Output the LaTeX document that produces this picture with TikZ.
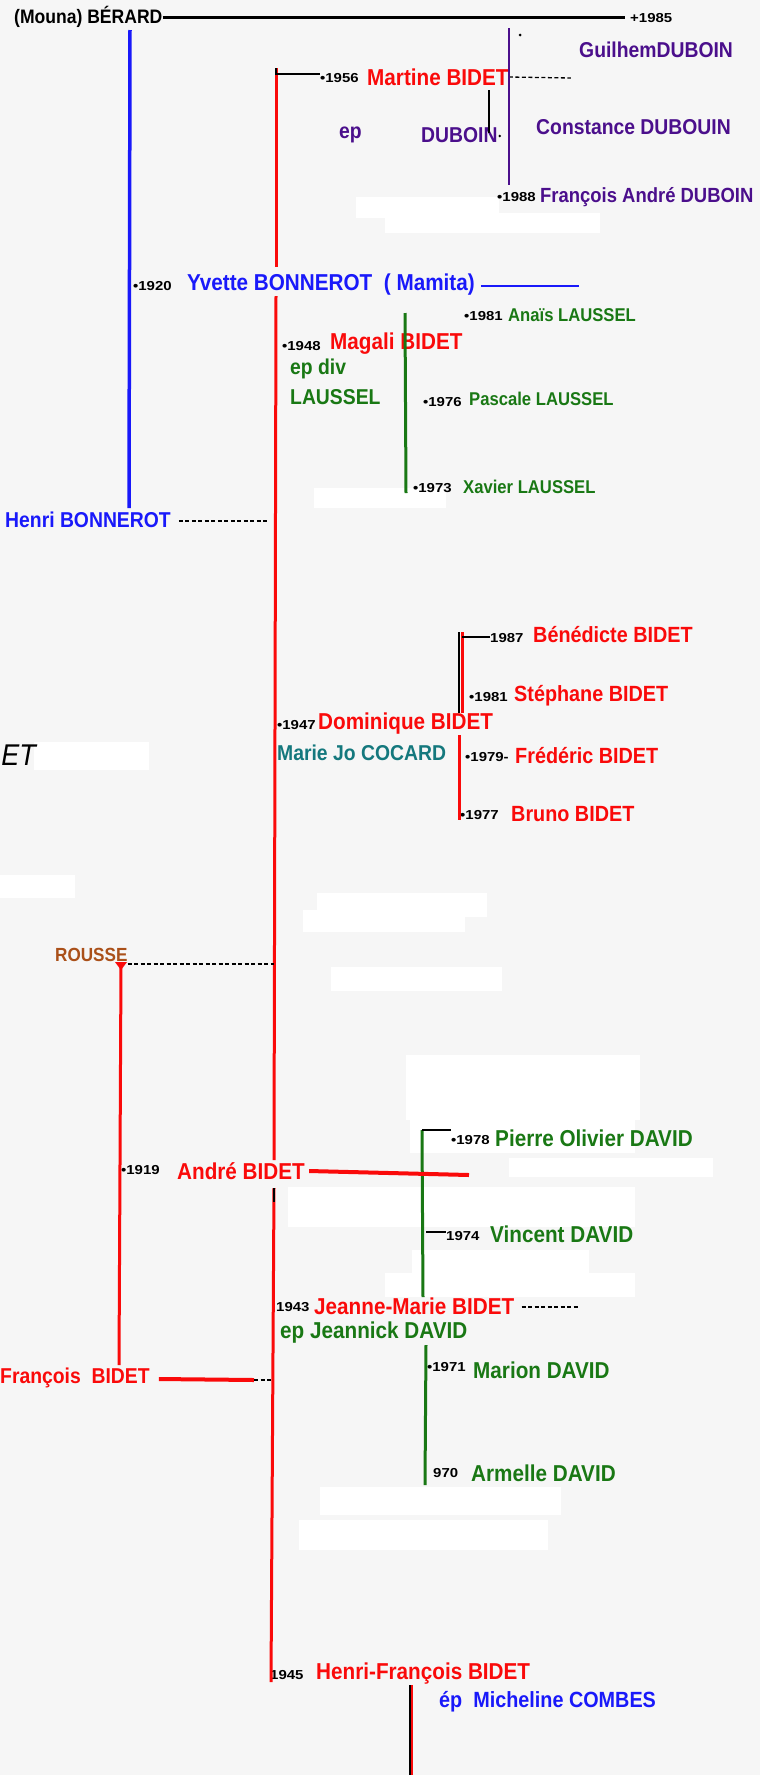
\documentclass[tikz,border=0pt]{standalone}
\usepackage{fontspec}
\setmainfont{Liberation Sans}[FakeStretch=0.9]
\newfontfamily\yearfont{Liberation Sans}[FakeStretch=1.15]
\usepackage{xcolor}
\usepackage{tikz}
\usetikzlibrary{calc}

\definecolor{nred}{RGB}{250,10,10}
\definecolor{nblue}{RGB}{25,25,250}
\definecolor{npurple}{RGB}{75,15,140}
\definecolor{ngreen}{RGB}{25,120,20}
\definecolor{nteal}{RGB}{20,120,125}
\definecolor{nbrown}{RGB}{170,80,25}
\definecolor{paper}{RGB}{246,246,246}

\begin{document}
\begin{tikzpicture}[x=1pt,y=-1pt,
	nm/.style={anchor=west, inner sep=0pt, font=\fontsize{23}{23}\selectfont\bfseries},
	nmkid/.style={nm, font=\fontsize{22}{22}\selectfont\bfseries},
	nmmid/.style={nm, font=\fontsize{21.5}{22}\selectfont\bfseries},
	nmsmall/.style={nm, font=\fontsize{18.5}{19}\selectfont\bfseries},
	yr/.style={anchor=west, inner sep=0pt, font=\yearfont\fontsize{13}{13}\selectfont\bfseries},
	bar/.style={line width=3pt},
	tick/.style={line width=1.6pt, black},
	dashlink/.style={line width=1.3pt, black, dash pattern=on 4pt off 2.5pt},
	erase/.style={fill=white, draw=none}]
				\useasboundingbox (0,0) rectangle (760,1775);
				\fill [paper] (0,0) rectangle (760,1775);
				
				% patches of white
				\path [erase] (356,197) rectangle (499,218);
				\path [erase] (385,213) rectangle (600,233);
				\path [erase] (314,488) rectangle (446,508);
				\path [erase] (34,742) rectangle (149,770);
				\path [erase] (0,875) rectangle (75,898);
				\path [erase] (317,893) rectangle (487,917);
				\path [erase] (303,910) rectangle (465,932);
				\path [erase] (331,967) rectangle (502,991);
				\path [erase] (406,1055) rectangle (640,1120);
				\path [erase] (410,1120) rectangle (635,1153);
				\path [erase] (509,1158) rectangle (713,1177);
				\path [erase] (288,1187) rectangle (635,1227);
				\path [erase] (412,1250) rectangle (589,1275);
				\path [erase] (385,1273) rectangle (635,1297);
				\path [erase] (320,1487) rectangle (561,1515);
				\path [erase] (299,1520) rectangle (548,1550);
				
				% names
				\node [nm, font=\fontsize{19.5}{20}\selectfont\bfseries] (berard) at (14,17) {(Mouna) BÉRARD};
				\node [yr] (d1985) at (630,18) {+1985};
				\node [nmmid, npurple] (guilhem) at (579,50) {GuilhemDUBOIN};
				\node [yr] (y1956) at (320,78) {•1956};
				\node [nm, nred] (martine) at (367,77) {Martine BIDET};
				\node [nmmid, npurple] (ep) at (339,135) {ep};
				\node [nmmid, npurple] (duboin) at (421,135) {DUBOIN};
				\node [nmmid, npurple] (constance) at (536,127) {Constance DUBOUIN};
				\node [yr] (y1988) at (497,197) {•1988};
				\node [nm, npurple, font=\fontsize{20.5}{21}\selectfont\bfseries] (fandre) at (540,197) {François André DUBOIN};
				
				\node [yr] (y1920) at (133,286) {•1920};
				\node [nm, nblue] (yvette) at (187,285) {Yvette BONNEROT\ \ ( Mamita)};
				\node [yr] (y1981a) at (464,316) {•1981};
				\node [nmsmall, ngreen] (anais) at (508,315) {Anaïs LAUSSEL};
				\node [yr] (y1948) at (282,346) {•1948};
				\node [nm, nred] (magali) at (330,344) {Magali BIDET};
				\node [nmmid, ngreen] (epdiv) at (290,369) {ep div};
				\node [nmmid, ngreen] (laussel) at (290,397) {LAUSSEL};
				\node [yr] (y1976) at (423,402) {•1976};
				\node [nmsmall, ngreen] (pascale) at (469,399) {Pascale LAUSSEL};
				\node [yr] (y1973) at (413,488) {•1973};
				\node [nmsmall, ngreen] (xavier) at (463,487) {Xavier LAUSSEL};
				\node [nmmid, nblue] (henri) at (5,520) {Henri BONNEROT};
				
				\node [yr] (y1987) at (490,638) {1987};
				\node [nmkid, nred] (benedicte) at (533,635) {Bénédicte BIDET};
				\node [yr] (y1981b) at (469,697) {•1981};
				\node [nmkid, nred] (stephane) at (514,696) {Stéphane BIDET};
				\node [yr] (y1947) at (277,725) {•1947};
				\node [nm, nred] (dominique) at (318,724) {Dominique BIDET};
				\node [nmmid, nteal] (cocard) at (277,753) {Marie Jo COCARD};
				\node [yr] (y1979) at (465,757) {•1979-};
				\node [nmkid, nred] (frederic) at (515,756) {Frédéric BIDET};
				\node [yr] (y1977) at (460,815) {•1977};
				\node [nmkid, nred] (bruno) at (511,814) {Bruno BIDET};
				\node [anchor=east, inner sep=0pt, font=\fontsize{30}{30}\selectfont\rmfamily\itshape] (scriptet) at (36,755) {ET};
				
				\node [nm, nbrown, font=\fontsize{19}{19}\selectfont\bfseries] (rousse) at (55,955) {ROUSSE};
				
				\node [yr] (y1978) at (451,1140) {•1978};
				\node [nm, ngreen] (pierre) at (495,1138) {Pierre Olivier DAVID};
				\node [yr] (y1919) at (121,1170) {•1919};
				\node [nm, nred] (andre) at (177,1171) {André BIDET};
				\node [yr] (y1974) at (446,1236) {1974};
				\node [nm, ngreen] (vincent) at (490,1234) {Vincent DAVID};
				\node [yr] (y1943) at (276,1307) {1943};
				\node [nm, nred] (jeanne) at (314,1306) {Jeanne-Marie BIDET};
				\node [nm, ngreen] (jeannick) at (280,1333) {ep Jeannick DAVID};
				\node [yr] (y1971) at (427,1367) {•1971};
				\node [nm, ngreen] (marion) at (473,1370) {Marion DAVID};
				\node [nmmid, nred] (francois) at (0,1378) {François\ \ BIDET};
				\node [yr] (y1970) at (433,1473) {970};
				\node [nm, ngreen] (armelle) at (471,1473) {Armelle DAVID};
				\node [yr] (y1945) at (270,1675) {1945};
				\node [nm, nred] (hfrancois) at (316,1674) {Henri-François BIDET};
				\node [nmkid, nblue] (micheline) at (439,1702) {ép\ \ Micheline COMBES};
				
				% line ends
				\coordinate (bline) at (625,17);
				\coordinate (mtop) at (276,68);
				\coordinate (mtick) at (276,74);
				\coordinate (mbot) at (276,267);
				\coordinate (dtop) at (509,28);
				\coordinate (dbot) at (509,185);
				\coordinate (htop) at (130,30);
				\coordinate (hbot) at (129,508);
				\coordinate (ytail) at (579,286);
				\coordinate (rtop) at (276,296);
				\coordinate (rmid) at (274,1160);
				\coordinate (rmid2) at (274,1188);
				\coordinate (rbot) at (271,1682);
				\coordinate (ltop) at (405,313);
				\coordinate (lbot) at (406,493);
				\coordinate (ktop) at (462,632);
				\coordinate (ktick) at (462,637);
				\coordinate (kmid) at (462,713);
				\coordinate (kmid2) at (459,735);
				\coordinate (kbot) at (459,820);
				\coordinate (rsse) at (121,964);
				\coordinate (fbot) at (119,1365);
				\coordinate (gtop) at (422,1130);
				\coordinate (gtick) at (426,1232);
				\coordinate (gmid) at (423,1297);
				\coordinate (gmid2) at (426,1345);
				\coordinate (gbot) at (425,1485);
				\coordinate (aend) at (469,1175);
				\coordinate (cend) at (254,1380);
				\coordinate (sdown) at (411,1685);
				\coordinate (sbot) at (411,1775);
				
				% lines
				\draw [bar, black] (berard.east) -- (bline);
				\draw [bar, nblue, line width=3.5pt] (htop) -- (hbot);
				\draw [bar, nred] (mtop) -- (mbot);
				\draw [tick] (mtop) -- (mtick) -- (y1956.west |- mtick);
				\draw [dashlink] (martine.east) -- ++(62,1);
				\draw [bar, npurple, line width=2.5pt] (dtop) -- (dbot);
				\fill [black] (520,35) circle (1.5pt);
				\draw [line width=1.2pt, black] (489,90) -- (489,133);
				\fill [black] (duboin.east) ++(2,1) circle (1.3pt);
				\draw [bar, nblue, line width=2.5pt] ($(yvette.east)+(6,1)$) -- (ytail);
				\draw [bar, nred] (rtop) -- (rmid);
				\draw [bar, nred] (rmid2) -- (rbot);
				\draw [tick] (rmid2) -- ++(0,14);
				\draw [bar, ngreen] (ltop) -- (lbot);
				\draw [dashlink] ($(henri.east)+(8,1)$) -- (269,521);
				
				\draw [line width=2pt, black] (459,632) -- (459,713);
				\draw [bar, nred] (ktop) -- (kmid);
				\draw [bar, nred] (kmid2) -- (kbot);
				\draw [tick] (ktick) -- (y1987.west |- ktick);
				
				\draw [dashlink] (rsse) -- (274,964);
				\draw [bar, nred] (rsse) -- (fbot);
				\fill [nred] (115,962) -- (127,962) -- (121,970) -- cycle;
				
				\draw [bar, ngreen] (gtop) -- (gmid);
				\draw [bar, ngreen] (gmid2) -- (gbot);
				\draw [tick] (gtop) -- (y1978.west |- gtop);
				\draw [tick] (gtick) -- (y1974.west |- gtick);
				\draw [line width=4pt, nred] ($(andre.east)+(4,0)$) -- (aend);
				\draw [dashlink] ($(jeanne.east)+(7,1)$) -- ++(57,0);
				\draw [line width=4pt, nred] ($(francois.east)+(9,1)$) -- (cend);
				\draw [dashlink] (cend) -- (271,1380);
				\draw [line width=3.5pt, black] (sdown) -- (sbot);
				\draw [line width=2pt, nred] ($(sdown)+(1,0)$) -- ($(sbot)+(1,0)$);
\end{tikzpicture}
\end{document}
